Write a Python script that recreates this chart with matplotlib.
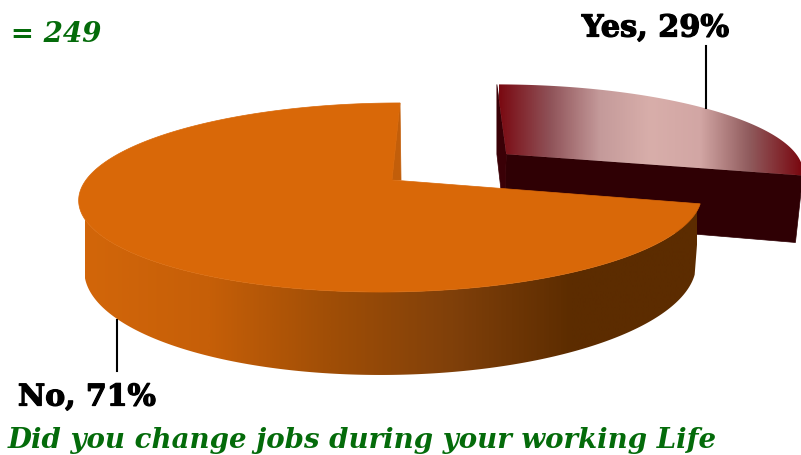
import numpy as np
import matplotlib
matplotlib.use("Agg")
import matplotlib.pyplot as plt
import matplotlib.patheffects as pe
from matplotlib.colors import LinearSegmentedColormap
from matplotlib.patches import Polygon

categories = ["Yes", "No"]
shares = [29, 71]
explode = [0.487, 0.0]
question = "Did you change jobs during your working Life"
sample_note = "n = 249"

W, H = 801, 455
APEX_X, APEX_Y = 392.0, 180.0
SCALE_X, SCALE_Y = 306.0, 91.3
SKEW, PERSP = 9.5, 0.185
DEPTH, TAPER = 67.6, 0.982

YES_TOP = LinearSegmentedColormap.from_list(
    "yes_top", ["#7a0a12", "#8f5258", "#c49a9a", "#d8aeaa", "#d2a6a4", "#8f5a5c", "#7a0a12"])
NO_SIDE = LinearSegmentedColormap.from_list(
    "no_side", ["#d2660a", "#c65f08", "#a04e06", "#80400a", "#5c2c00", "#5c2c00"])


def project(c, u, bottom=False):
    """Tilted-disk projection of unit-disk coordinates to pixels."""
    w = 1 + PERSP * u
    x = (SCALE_X * c + SKEW * u) / w
    y = APEX_Y - SCALE_Y * u / w
    if bottom:
        x = x * TAPER
        y = y + DEPTH / w
    return APEX_X + x, y


def rim(a0, a1, off, bottom=False):
    t = np.radians(np.linspace(a0, a1, 480))
    return project(np.cos(t) + off[0], np.sin(t) + off[1], bottom)


def poly(ax, xs, ys, color, z):
    ax.add_patch(Polygon(np.column_stack([xs, ys]), closed=True, fc=color, ec=color, lw=0.5, zorder=z))


def gradient(ax, cmap, xs, ys, x0, x1, z):
    clip = Polygon(np.column_stack([xs, ys]), closed=True, transform=ax.transData, fc="none", ec="none")
    ax.add_patch(clip)
    img = ax.imshow(np.linspace(0, 1, 400)[None, :], cmap=cmap, extent=(x0, x1, H, 0),
                    aspect="auto", zorder=z, interpolation="bilinear")
    img.set_clip_path(clip)


fig = plt.figure(figsize=(W / 100, H / 100), dpi=100)
ax = fig.add_axes([0, 0, 1, 1])
ax.set_xlim(0, W)
ax.set_ylim(H, 0)
ax.axis("off")

# Both slices run clockwise from twelve o'clock
yes_sweep = 360 * shares[0] / sum(shares)
edge = 90 - yes_sweep
mid = np.radians(90 - yes_sweep / 2)
off_yes = (explode[0] * np.cos(mid), explode[0] * np.sin(mid))
off_no = (0.0, 0.0)

# Exploded "Yes" slice
ax_x, ax_y = project(off_yes[0], off_yes[1])
bx, by = project(off_yes[0], off_yes[1], True)
fx, fy = rim(90, 90, off_yes)
ex, ey = rim(edge, edge, off_yes)
ebx, eby = rim(edge, edge, off_yes, True)
poly(ax, [ax_x, ex[0], ebx[0], bx], [ax_y, ey[0], eby[0], by], "#2f0004", 2)
poly(ax, [fx[0], ax_x, bx, fx[0]], [fy[0], ax_y, by, ax_y], "#3a0006", 2)
rx, ry = rim(90, edge, off_yes)
gradient(ax, YES_TOP, np.r_[ax_x, rx], np.r_[ax_y, ry], 499, 801, 3)

# "No" slice: curved wall from its left tangent, back wall, then top face
tx, ty = rim(90, 90 + 360 * shares[1] / sum(shares), off_no)
sx, sy = rim(90, 360 + edge, off_no)
sbx, sby = rim(90, 360 + edge, off_no, True)
i, j = int(np.argmin(sx)), int(np.argmin(sbx))
wall_x = np.r_[sx[i:], sbx[j:][::-1]]
wall_y = np.r_[sy[i:], sby[j:][::-1]]
gradient(ax, NO_SIDE, wall_x, wall_y, 85, 697, 4)
ox, oy = project(0, 0)
poly(ax, [tx[0], tx[0] + 1, ox + 9, ox], [ty[0], oy, oy, oy], "#c25e0a", 5)
poly(ax, np.r_[ox, tx], np.r_[oy, ty], "#d96808", 6)

# Leader lines and labels
ax.plot([706, 706], [46, 108], color="black", lw=1.5, zorder=7)
ax.plot([117, 117], [320, 371], color="black", lw=1.5, zorder=7)
heavy = [pe.withStroke(linewidth=0.9, foreground="black")]
ax.text(655.5, 28, f"{categories[0]}, {shares[0]}%", ha="center", va="center",
        family="DejaVu Serif", weight="bold", size=21.8, color="black", path_effects=heavy)
ax.text(87, 397, f"{categories[1]}, {shares[1]}%", ha="center", va="center",
        family="DejaVu Serif", weight="bold", size=21.5, color="black", path_effects=heavy)
ax.text(101, 35, sample_note, ha="right", va="center", family="DejaVu Serif",
        weight="bold", style="italic", size=20, color="#046b0a")
ax.text(8, 440, question, ha="left", va="center", family="DejaVu Serif",
        weight="bold", style="italic", size=19.9, color="#046b0a")

fig.savefig("out.png", dpi=100, facecolor="white")
